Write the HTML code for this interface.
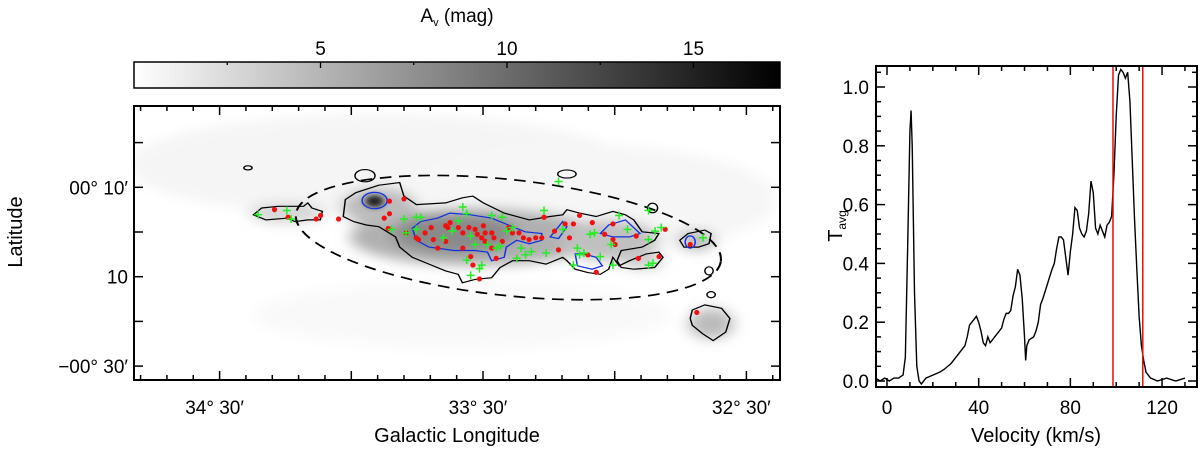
<!DOCTYPE html>
<html><head><meta charset="utf-8"><style>
html,body{margin:0;padding:0;background:#fff;}
svg{display:block;font-family:"Liberation Sans",sans-serif;}
</style></head><body>
<svg id="fig" width="1200" height="454" viewBox="0 0 1200 454">
<defs>
<linearGradient id="cbg" x1="0" x2="1" y1="0" y2="0"><stop offset="0" stop-color="#fff"/><stop offset="1" stop-color="#000"/></linearGradient>
<filter id="bl" x="-50%" y="-50%" width="200%" height="200%"><feGaussianBlur stdDeviation="18"/></filter>
<filter id="bl2" x="-50%" y="-50%" width="200%" height="200%"><feGaussianBlur stdDeviation="8"/></filter>
<clipPath id="mapclip"><rect x="134" y="106" width="646" height="274"/></clipPath>
<clipPath id="specclip"><rect x="876" y="67" width="321" height="320"/></clipPath>
</defs>
<text x="457" y="22" font-size="19" text-anchor="middle">A<tspan font-size="11" dy="4">v</tspan><tspan dy="-4"> (mag)</tspan></text>
<rect x="134" y="62" width="646" height="26" fill="url(#cbg)" stroke="#000" stroke-width="1.5"/>
<g id="cbticks"></g>

<g clip-path="url(#mapclip)">
<g transform="translate(128,97.5) scale(0.418,0.34)">
 <g filter="url(#bl)">
  <ellipse cx="600" cy="200" rx="600" ry="150" fill="#f5f5f5"/>
  <ellipse cx="1100" cy="300" rx="450" ry="160" fill="#f6f6f6"/>
  <ellipse cx="800" cy="640" rx="500" ry="100" fill="#f9f9f9"/>
  <ellipse cx="380" cy="340" rx="90" ry="30" fill="#d4d4d4"/>
  <ellipse cx="830" cy="410" rx="300" ry="85" fill="#b0b0b0"/>
  <ellipse cx="780" cy="400" rx="150" ry="60" fill="#8a8a8a"/>
  <ellipse cx="600" cy="320" rx="90" ry="55" fill="#bbb"/>
  <ellipse cx="1150" cy="420" rx="120" ry="60" fill="#c0c0c0"/>
  <ellipse cx="1230" cy="480" rx="50" ry="25" fill="#ccc"/>
  <ellipse cx="1360" cy="420" rx="45" ry="30" fill="#b8b8b8"/>
  <ellipse cx="1395" cy="665" rx="55" ry="45" fill="#bbb"/>
 </g>
 <ellipse cx="590" cy="305" rx="22" ry="18" fill="#222" filter="url(#bl2)"/>
 <g fill="none" stroke="#000" stroke-width="3.5">
  <path d="M515,350 L520,300 545,280 600,258 650,250 660,290 690,315 760,310 800,295 825,290 850,310 900,340 960,360 1010,350 1040,345 1050,330 1080,340 1120,350 1160,335 1190,345 1210,360 1230,395 1270,400 1260,420 1230,440 1180,450 1170,480 1180,500 1210,505 1260,500 1280,470 1270,455 1240,460 1200,480 1175,495 1160,470 1150,505 1130,520 1100,515 1070,505 1050,480 1040,470 1000,490 960,480 920,480 890,500 870,530 830,535 800,545 790,520 760,510 720,490 680,470 650,440 640,410 600,380 570,375 540,365 Z"/>
  <path d="M300,345 L320,325 360,320 420,320 430,310 440,325 465,335 460,360 430,360 400,365 380,355 330,360 Z"/>
  <path d="M1320,420 L1340,400 1380,390 1395,400 1390,430 1365,440 1330,440 Z"/>
  <path d="M1345,650 L1350,625 1380,610 1420,620 1440,650 1430,690 1400,715 1375,695 1350,670 Z"/>
  <ellipse cx="567" cy="230" rx="24" ry="18"/>
  <ellipse cx="1050" cy="225" rx="22" ry="12"/>
  <ellipse cx="1255" cy="325" rx="12" ry="14"/>
  <ellipse cx="287" cy="207" rx="10" ry="6"/>
  <ellipse cx="1395" cy="580" rx="10" ry="9"/>
  <ellipse cx="1390" cy="510" rx="10" ry="12"/>
 </g>
 <g fill="none" stroke="#1030e0" stroke-width="3.5">
  <ellipse cx="590" cy="303" rx="30" ry="24"/>
  <path d="M680,385 L700,365 740,355 770,340 820,345 870,355 910,375 950,395 990,400 990,420 960,430 930,420 905,440 900,470 870,480 860,455 830,450 780,450 720,440 690,420 Z"/>
  <path d="M1010,410 L1040,365 1050,380 1030,415 Z"/>
  <path d="M1130,400 L1150,375 1190,360 1225,400 1200,410 1160,410 Z"/>
  <path d="M1070,460 L1090,460 1120,470 1135,495 1110,505 1075,495 Z"/>
  <ellipse cx="1345" cy="425" rx="12" ry="18"/>
 </g>
 <ellipse cx="910" cy="412" rx="513" ry="170" transform="rotate(8 910 412)" fill="none" stroke="#000" stroke-width="5" stroke-dasharray="28,18"/>
</g>
<g id="points"></g>
</g>
<rect x="134" y="106" width="646" height="274" fill="none" stroke="#000" stroke-width="2"/>
<g id="mapaxes"></g>
<text x="457" y="442" font-size="20" text-anchor="middle">Galactic Longitude</text>
<text transform="translate(22,232) rotate(-90)" font-size="20" text-anchor="middle">Latitude</text>

<g id="spec"></g>
<rect x="876" y="66" width="321" height="321" fill="none" stroke="#000" stroke-width="2"/>
<text x="1036" y="442" font-size="20" text-anchor="middle">Velocity (km/s)</text>
<text transform="translate(842,226) rotate(-90)" font-size="20" text-anchor="middle">T<tspan font-size="12" dy="4">avg</tspan></text>
</svg>
<script>
// ---- colorbar data ----
const cbTicks = [5, 10, 15];
// ---- map data (lon offset from 33°30' in arcmin, lat in arcmin) ----
const redLon = [47.5,44.4,38.0,37.0,32.9,21.3,18.0,22.5,21.3,21.6,17.5,15.2,13.2,14.7,11.3,11.8,8.5,7.5,8.0,5.6,4.6,3.2,1.8,1.3,-0.1,-0.5,-2.0,-2.5,-0.5,2.8,2.3,0.8,-2.0,-3.0,-4.4,-5.8,-6.7,-8.2,-9.2,-10.5,-12.0,-13.4,-13.9,-17.2,-16.3,-18.7,-20.6,-22.0,-23.9,-25.8,-27.7,-29.6,-29.6,-30.1,-34.9,-35.4,-40.1,-41.5,-47.2,-48.7,-19.7,-24.9,8.5,10.3,4.6,0.3];
const redLat = [5.0,3.3,2.9,3.7,2.9,6.9,7.4,3.1,4.1,0.8,-0.2,-1.3,-0.2,-1.7,-1.7,1.0,1.4,2.1,1.0,1.0,-0.2,1.0,0.6,-0.5,1.4,-0.2,-0.2,-1.3,-2.1,-5.5,-7.4,-10.5,-3.6,-5.9,-2.1,1.0,-0.2,-0.2,-1.3,-1.7,-1.3,-1.3,3.3,-4.0,0.2,1.8,1.8,3.7,-5.1,-9.0,-0.5,-1.7,1.8,-2.8,-0.9,-5.9,-5.5,0.6,-2.8,-18.0,-1.3,2.1,-2.1,-3.6,-3.6,-1.3];
const greenLon = [51.2,44.7,43.7,20.8,18.0,17.5,15.2,14.2,15.2,9.0,5.6,4.6,3.7,2.8,1.8,0.8,0.3,2.8,-2.0,-1.0,-3.0,-3.9,-4.4,-5.4,-6.7,-8.7,-9.7,-11.0,-13.9,-14.4,-17.2,-18.2,-21.5,-22.0,-23.0,-24.4,-25.4,-26.7,-29.2,-29.6,-31.0,-32.9,-37.7,-37.7,-37.7,-38.7,-39.2,-40.6,-50.1,3.7,7.0,-7.7,-20.6];
const greenLat = [3.9,4.8,2.9,0.6,2.9,-0.2,3.3,3.3,0.6,-1.3,2.5,5.6,4.1,-0.9,-2.8,-8.2,-7.4,-9.7,3.7,-2.8,-3.6,-3.2,3.3,0.2,1.0,-3.6,-5.1,-4.4,4.8,-4.7,11.3,0.6,-3.6,-5.1,-4.7,-0.5,-0.2,-5.5,-2.8,-7.4,3.7,0.6,4.8,-1.7,-7.4,-7.0,0.2,1.0,-1.3,-6.3,0.2,-5.9,-7.4];
const lonLabels = ["34° 30′","33° 30′","32° 30′"];
const lonLabelVals = [60, 0, -60];
const latLabels = ["00° 10′","10","−00° 30′"];
const latLabelVals = [10, -10, -30];
// ---- spectrum data ----
const vel = [-5,-3,-1,1,3,5,7,8,9,10,10.5,11,12,13,14,15,17,20,23,25,28,30,32,34,35,36,37,38,39,40,41,42,43,44,45,46,48,50,51,52,53,54,55,56,57,57.5,58,59,60,60.5,61,62,64,65,66,67,68,70,72,73,74,75,76,77,78,79,80,81,82,83,84,85,86,87,88,89,90,91,92,93,94,95,96,97,98,99,100,101,102,103,104,105,106,107,108,109,110,111,112,113,115,118,122,126,130,135];
const tavg = [0.01,0.00,0.01,0.00,0.01,0.01,0.02,0.08,0.45,0.85,0.92,0.80,0.30,0.05,0.00,-0.01,0.01,0.02,0.03,0.04,0.06,0.08,0.10,0.12,0.15,0.19,0.20,0.21,0.22,0.20,0.17,0.13,0.12,0.15,0.13,0.14,0.16,0.18,0.21,0.23,0.23,0.24,0.29,0.32,0.38,0.37,0.36,0.28,0.15,0.07,0.12,0.14,0.15,0.17,0.20,0.26,0.28,0.33,0.38,0.40,0.45,0.49,0.49,0.48,0.42,0.36,0.44,0.50,0.59,0.58,0.52,0.50,0.49,0.51,0.57,0.68,0.64,0.52,0.50,0.53,0.51,0.49,0.53,0.54,0.56,0.70,0.90,1.04,1.06,1.05,1.03,1.05,0.95,0.75,0.55,0.38,0.22,0.12,0.07,0.03,0.01,0.00,0.01,0.00,0.01];
const redLines = [98.6, 111.6];
const vTicks = [0, 40, 80, 120];
const tTicks = [0.0, 0.2, 0.4, 0.6, 0.8, 1.0];

const NS = "http://www.w3.org/2000/svg";
function mk(tag, attrs, parent){const e=document.createElementNS(NS,tag);for(const k in attrs)e.setAttribute(k,attrs[k]);parent.appendChild(e);return e;}

// colorbar axis
const cbX = a => 134 + a*37.3;
const cbg = document.getElementById('cbticks');
for(let a=2.5;a<17.3;a+=2.5){
  const major = cbTicks.includes(a);
  const t = mk('line',{x1:cbX(a),x2:cbX(a),y1:62,y2:62+(major?6:3),stroke:'#000','stroke-width':1.3},cbg);
  
  
}
cbTicks.forEach(a=>{
  const t=mk('text',{x:cbX(a),y:55,'font-size':19,'text-anchor':'middle'},cbg);t.textContent=a;
  
  
});

// map axes (longitude increases to the left)
const mx = dl => 483 - dl*4.39;
const my = b => 232 - b*4.47;
const ma = document.getElementById('mapaxes');
for(let dl=78; dl>=-66; dl-=6){
  const x=mx(dl); if(x<135||x>779) continue;
  const L = (dl%30===0)?9:5;
  const a=mk('line',{x1:x,x2:x,y1:380,y2:380-L,stroke:'#000','stroke-width':1.5},ma);
  
  
  const b=mk('line',{x1:x,x2:x,y1:106,y2:106+L,stroke:'#000','stroke-width':1.5},ma);
  
  
}
for(let b=30; b>=-40; b-=10){
  const y=my(b); if(y<107||y>379) continue;
  const l=mk('line',{x1:134,x2:143,y1:y,y2:y,stroke:'#000','stroke-width':1.5},ma);
  
  
  const r=mk('line',{x1:780,x2:771,y1:y,y2:y,stroke:'#000','stroke-width':1.5},ma);
  
  
}
lonLabels.forEach((s,i)=>{
  const t=mk('text',{x:mx(lonLabelVals[i])-5,y:414,'font-size':19,'text-anchor':'middle'},ma);t.textContent=s;
  
  
});
latLabels.forEach((s,i)=>{
  const t=mk('text',{x:128,y:my(latLabelVals[i])+7,'font-size':19,'text-anchor':'end'},ma);t.textContent=s;
  
  
});

// map points
const pg=document.getElementById('points');
redLon.forEach((l,i)=>{
  const c=mk('circle',{cx:mx(l),cy:my(redLat[i]),r:2.6,fill:'#f01010'},pg);
  
  
});
greenLon.forEach((l,i)=>{
  const x=mx(l),y=my(greenLat[i]);
  const p=mk('path',{d:`M${x-4},${y}H${x+4}M${x},${y-4}V${y+4}`,stroke:'#22ee22','stroke-width':1.5,fill:'none'},pg);
  
  
});

// spectrum
const sx = v => 887 + v*2.292;
const sy = t => 381 - t*294;
const sg=document.getElementById('spec');
for(let v=0; v<=130; v+=10){
  const L=(v%40===0)?9:5;
  const a=mk('line',{x1:sx(v),x2:sx(v),y1:387,y2:387-L,stroke:'#000','stroke-width':1.5},sg);
  
  
  const b=mk('line',{x1:sx(v),x2:sx(v),y1:66,y2:66+L,stroke:'#000','stroke-width':1.5},sg);
  
  
}
for(let k=0;k<=21;k++){
  const t=k*0.05, L=(k%4===0)?9:5;
  const a=mk('line',{x1:876,x2:876+L,y1:sy(t),y2:sy(t),stroke:'#000','stroke-width':1.5},sg);
  
  
  const b=mk('line',{x1:1197,x2:1197-L,y1:sy(t),y2:sy(t),stroke:'#000','stroke-width':1.5},sg);
  
  
}
vTicks.forEach(v=>{
  const t=mk('text',{x:sx(v),y:414,'font-size':19,'text-anchor':'middle'},sg);t.textContent=v;
  
  
});
tTicks.forEach(v=>{
  const t=mk('text',{x:869,y:sy(v)+7,'font-size':19,'text-anchor':'end'},sg);t.textContent=v.toFixed(1);
  
  
});
const cg=mk('g',{'clip-path':'url(#specclip)'},sg);
const line=mk('polyline',{points:vel.map((v,i)=>sx(v)+','+sy(tavg[i])).join(' '),fill:'none',stroke:'#000','stroke-width':1.4},cg);


redLines.forEach(v=>{
  const l=mk('line',{x1:sx(v),x2:sx(v),y1:66,y2:387,stroke:'#e01010','stroke-width':1.5},sg);
  
  
});
</script>
</body></html>
